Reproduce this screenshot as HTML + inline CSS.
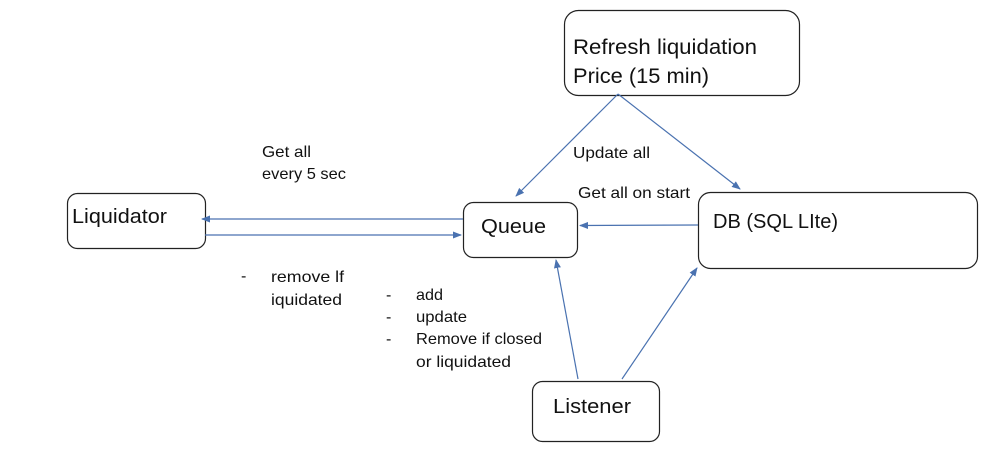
<!DOCTYPE html>
<html><head><meta charset="utf-8"><style>
html,body{margin:0;padding:0;background:#fff;}
svg{display:block}
text{font-family:"Liberation Sans",sans-serif;fill:#111}
</style></head><body>
<svg width="1008" height="451" viewBox="0 0 1008 451" xmlns="http://www.w3.org/2000/svg">
<defs>
<marker id="a" markerWidth="9" markerHeight="7" refX="8" refY="3.5" orient="auto" markerUnits="userSpaceOnUse">
<path d="M0,0 L9,3.5 L0,7 Z" fill="#4a72b0"/>
</marker>
</defs>
<g fill="#fff" stroke="#222" stroke-width="1.2">
<rect x="564.5" y="10.5" width="235" height="85" rx="14"/>
<rect x="67.5" y="193.5" width="138" height="55" rx="10"/>
<rect x="463.5" y="202.5" width="114" height="55" rx="10"/>
<rect x="698.5" y="192.5" width="279" height="76" rx="12"/>
<rect x="532.5" y="381.5" width="127" height="60" rx="10"/>
</g>
<g stroke="#4a72b0" stroke-width="1.2" fill="none" marker-end="url(#a)">
<line x1="463" y1="219" x2="202" y2="219"/>
<line x1="205" y1="235" x2="461" y2="235"/>
<line x1="698" y1="225" x2="580" y2="225.5"/>
<line x1="618" y1="94" x2="516" y2="196"/>
<line x1="618" y1="94" x2="740" y2="189"/>
<line x1="578" y1="379" x2="556" y2="260"/>
<line x1="622" y1="379" x2="697" y2="268"/>
</g>
<text x="573" y="54" font-size="21" textLength="184" lengthAdjust="spacingAndGlyphs">Refresh liquidation</text>
<text x="573" y="83" font-size="21" textLength="136" lengthAdjust="spacingAndGlyphs">Price (15 min)</text>
<text x="72" y="223" font-size="20" textLength="95" lengthAdjust="spacingAndGlyphs">Liquidator</text>
<text x="481" y="233" font-size="20" textLength="65" lengthAdjust="spacingAndGlyphs">Queue</text>
<text x="713" y="228" font-size="20" textLength="125" lengthAdjust="spacingAndGlyphs">DB (SQL LIte)</text>
<text x="553" y="413" font-size="20" textLength="78" lengthAdjust="spacingAndGlyphs">Listener</text>
<g font-size="16">
<text x="262" y="157" textLength="49" lengthAdjust="spacingAndGlyphs">Get all</text>
<text x="262" y="179" textLength="84" lengthAdjust="spacingAndGlyphs">every 5 sec</text>
<text x="573" y="158" textLength="77" lengthAdjust="spacingAndGlyphs">Update all</text>
<text x="578" y="198" textLength="112" lengthAdjust="spacingAndGlyphs">Get all on start</text>
<text x="241" y="281">-</text>
<text x="271" y="282" textLength="73" lengthAdjust="spacingAndGlyphs">remove lf</text>
<text x="271" y="305" textLength="71" lengthAdjust="spacingAndGlyphs">iquidated</text>
<text x="386" y="300">-</text><text x="416" y="300" textLength="27" lengthAdjust="spacingAndGlyphs">add</text>
<text x="386" y="322">-</text><text x="416" y="322" textLength="51" lengthAdjust="spacingAndGlyphs">update</text>
<text x="386" y="344">-</text><text x="416" y="344" textLength="126" lengthAdjust="spacingAndGlyphs">Remove if closed</text>
<text x="416" y="367" textLength="95" lengthAdjust="spacingAndGlyphs">or liquidated</text>
</g>
</svg>
</body></html>
